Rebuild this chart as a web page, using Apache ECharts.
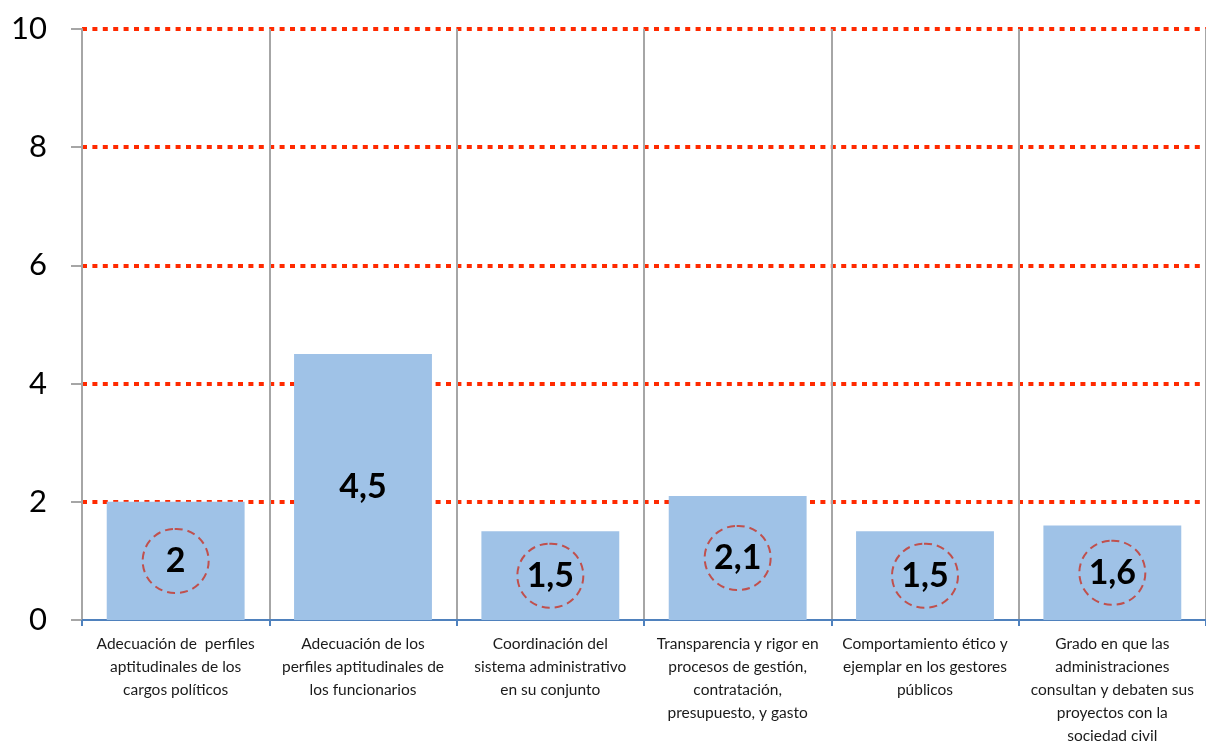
<!DOCTYPE html>
<html>
<head>
<meta charset="utf-8">
<script src="https://cdn.jsdelivr.net/npm/echarts@6/dist/echarts.min.js"></script>
<style>
html,body{margin:0;padding:0;background:#fff;}
#chart{width:1206px;height:742px;}
</style>
</head>
<body>
<div id="chart"></div>
<script>
const categories = [
  "Adecuación de  perfiles\naptitudinales de los\ncargos políticos",
  "Adecuación de los\nperfiles aptitudinales de\nlos funcionarios",
  "Coordinación del\nsistema administrativo\nen su conjunto",
  "Transparencia y rigor en\nprocesos de gestión,\ncontratación,\npresupuesto, y gasto",
  "Comportamiento ético y\nejemplar en los gestores\npúblicos",
  "Grado en que las\nadministraciones\nconsultan y debaten sus\nproyectos con la\nsociedad civil"
];
const values = [2, 4.5, 1.5, 2.1, 1.5, 1.6];
const circled = [true, false, true, true, true, true];
const yTicks = [0, 2, 4, 6, 8, 10];

const circleLabel = {
  width: 66, height: 64, lineHeight: 64,
  align: 'center', verticalAlign: 'middle',
  borderColor: '#C0504D', borderWidth: 2, borderType: [8, 5],
  borderRadius: 33
};

const data = values.map((v, i) => circled[i]
  ? { value: v, label: Object.assign({}, circleLabel) }
  : { value: v });

const chart = echarts.init(document.getElementById('chart'), null, {renderer: 'canvas'});
chart.setOption({
  animation: false,
  grid: { left: 82, right: 0, top: 29, bottom: 122, containLabel: false, outerBoundsMode: 'none' },
  xAxis: {
    type: 'category',
    data: categories,
    axisLine: { lineStyle: { color: '#4F81BD', width: 2 } },
    axisTick: { show: true, length: 6, interval: 0, lineStyle: { color: '#4F81BD', width: 2 } },
    axisLabel: {
      interval: 0, margin: 12, color: '#1a1a1a',
      fontFamily: 'Lato', fontSize: 15.5, lineHeight: 23
    },
    splitLine: { show: true, interval: 0, lineStyle: { color: '#A6A6A6', width: 2 } }
  },
  yAxis: {
    type: 'value', min: yTicks[0], max: yTicks[yTicks.length - 1], interval: 2,
    axisLine: { show: true, lineStyle: { color: '#A6A6A6', width: 2 } },
    axisTick: { show: true, length: 11, lineStyle: { color: '#A6A6A6', width: 2 } },
    axisLabel: { margin: 35, color: '#000', fontFamily: 'Lato', fontSize: 31 },
    splitLine: {
      show: true, showMinLine: false,
      lineStyle: { color: '#FF2A00', width: 4, type: [5, 5.4] }
    }
  },
  series: [{
    type: 'bar',
    data: data,
    barWidth: '73.6%',
    itemStyle: { color: '#9FC2E7' },
    z: 1,
    label: {
      show: true, position: 'inside', color: '#000',
      fontFamily: 'Lato', fontWeight: 'bold', fontSize: 34,
      formatter: p => String(p.value).replace('.', ',')
    }
  }]
});
</script>
</body>
</html>
